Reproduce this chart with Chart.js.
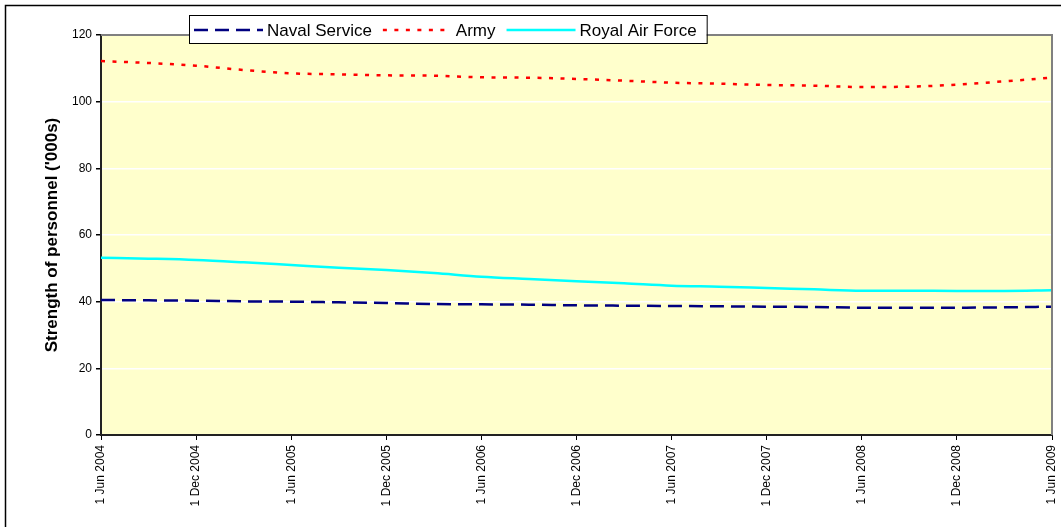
<!DOCTYPE html>
<html>
<head>
<meta charset="utf-8">
<style>
  html, body { margin: 0; padding: 0; background: #fff; }
  #wrap { width: 1061px; height: 527px; }
</style>
<script src="https://cdn.jsdelivr.net/npm/chart.js@4.4.0/dist/chart.umd.min.js"></script>
</head>
<body>
<div id="wrap"><canvas id="chart" width="1061" height="527"></canvas></div>
<script>
// tick labels, one every 6 months
const dateLabels = ['1 Jun 2004', '1 Dec 2004', '1 Jun 2005', '1 Dec 2005', '1 Jun 2006',
  '1 Dec 2006', '1 Jun 2007', '1 Dec 2007', '1 Jun 2008', '1 Dec 2008', '1 Jun 2009'];
// months after 1 Jun 2004 (quarterly readings)
const months = [0, 3, 6, 9, 12, 15, 18, 21, 24, 27, 30, 33, 36, 39, 42, 45, 48, 51, 54, 57, 60];
const naval = [40.5, 40.4, 40.3, 40.1, 40.0, 39.8, 39.6, 39.3, 39.2, 39.1, 38.9,
  38.8, 38.7, 38.6, 38.5, 38.4, 38.2, 38.2, 38.2, 38.3, 38.5];
const army = [112.2, 111.6, 110.8, 109.5, 108.5, 108.2, 107.9, 107.8, 107.3, 107.2, 106.8,
  106.3, 105.7, 105.4, 105.0, 104.8, 104.4, 104.5, 105.1, 106.1, 107.2];
const raf = [53.2, 52.9, 52.5, 51.8, 51.0, 50.2, 49.5, 48.6, 47.5, 46.8, 46.1,
  45.5, 44.8, 44.5, 44.1, 43.7, 43.3, 43.3, 43.2, 43.2, 43.4];

const FONT = "'Liberation Sans', Arial, sans-serif";

const points = arr => arr.map((v, i) => ({ x: months[i], y: v }));

// plot background, grey top/right edge, outer frame and the boxed legend
const decor = {
  id: 'decor',
  beforeDraw(chart) {
    const { ctx, chartArea: a } = chart;
    ctx.save();
    ctx.fillStyle = '#FFFFCC';
    ctx.fillRect(a.left, a.top, a.right - a.left, a.bottom - a.top);
    ctx.restore();
  },
  afterDraw(chart) {
    const { ctx, chartArea: a } = chart;
    ctx.save();
    ctx.strokeStyle = '#808080';
    ctx.lineWidth = 2;
    ctx.beginPath();
    ctx.moveTo(a.left, a.top);
    ctx.lineTo(a.right, a.top);
    ctx.lineTo(a.right, a.bottom);
    ctx.stroke();

    ctx.strokeStyle = '#000';
    ctx.lineWidth = 1.5;
    ctx.strokeRect(5.5, 5.5, 1200, 700);

    // legend
    ctx.font = '17px ' + FONT;
    const cy = 30;
    let x = 194;
    const items = chart.data.datasets.map(ds => ({ ds, w: ctx.measureText(ds.label).width }));
    let total = 0;
    items.forEach(it => { total += 69 + 4 + it.w + 11; });
    ctx.fillStyle = '#fff';
    ctx.fillRect(189, 15, total + 4, 28);
    ctx.strokeStyle = '#000';
    ctx.lineWidth = 1;
    ctx.strokeRect(189.5, 15.5, total + 4, 28);
    items.forEach(it => {
      ctx.strokeStyle = it.ds.borderColor;
      ctx.lineWidth = it.ds.borderWidth;
      ctx.setLineDash(it.ds.borderDash || []);
      ctx.beginPath();
      ctx.moveTo(x, cy);
      ctx.lineTo(x + 69, cy);
      ctx.stroke();
      ctx.setLineDash([]);
      ctx.fillStyle = '#000';
      ctx.textBaseline = 'middle';
      ctx.fillText(it.ds.label, x + 73, cy + 1);
      x += 69 + 4 + it.w + 11;
    });
    ctx.restore();
  }
};

new Chart(document.getElementById('chart'), {
  type: 'line',
  data: {
    datasets: [
      { label: 'Naval Service', data: points(naval), borderColor: '#000080',
        borderWidth: 2.5, borderDash: [14, 7] },
      { label: 'Army', data: points(army), borderColor: '#FF0000',
        borderWidth: 2.5, borderDash: [4, 7.5] },
      { label: 'Royal Air Force', data: points(raf), borderColor: '#00FFFF',
        borderWidth: 2.5 }
    ]
  },
  options: {
    responsive: false,
    animation: false,
    devicePixelRatio: 1,
    elements: {
      point: { radius: 0 },
      line: { tension: 0.4, cubicInterpolationMode: 'monotone', fill: false }
    },
    layout: { padding: { left: 0, top: 35, right: 9, bottom: 0 } },
    plugins: { legend: { display: false }, tooltip: { enabled: false } },
    scales: {
      x: {
        type: 'linear', min: 0, max: 60,
        afterFit: s => { s.height = 92; s.paddingRight = 0; s.paddingLeft = 0; },
        grid: { drawOnChartArea: false, tickLength: 5, tickColor: '#000' },
        border: { color: '#222', width: 2 },
        ticks: {
          stepSize: 6, autoSkip: false, maxRotation: 90, minRotation: 90, padding: 5,
          color: '#000', font: { family: FONT, size: 12 },
          callback: v => dateLabels[v / 6]
        }
      },
      y: {
        min: 0, max: 120,
        afterFit: s => { s.width = 101; },
        grid: { color: '#fff', lineWidth: 1.5, tickLength: 5, tickColor: '#000' },
        border: { color: '#222', width: 2 },
        ticks: { stepSize: 20, padding: 4, color: '#000', font: { family: FONT, size: 12 } },
        title: {
          display: true, text: "Strength of personnel ('000s)", color: '#000',
          font: { family: FONT, size: 17, weight: 'bold' }, padding: { top: 42, bottom: 0 }
        }
      }
    }
  },
  plugins: [decor]
});
</script>
</body>
</html>
